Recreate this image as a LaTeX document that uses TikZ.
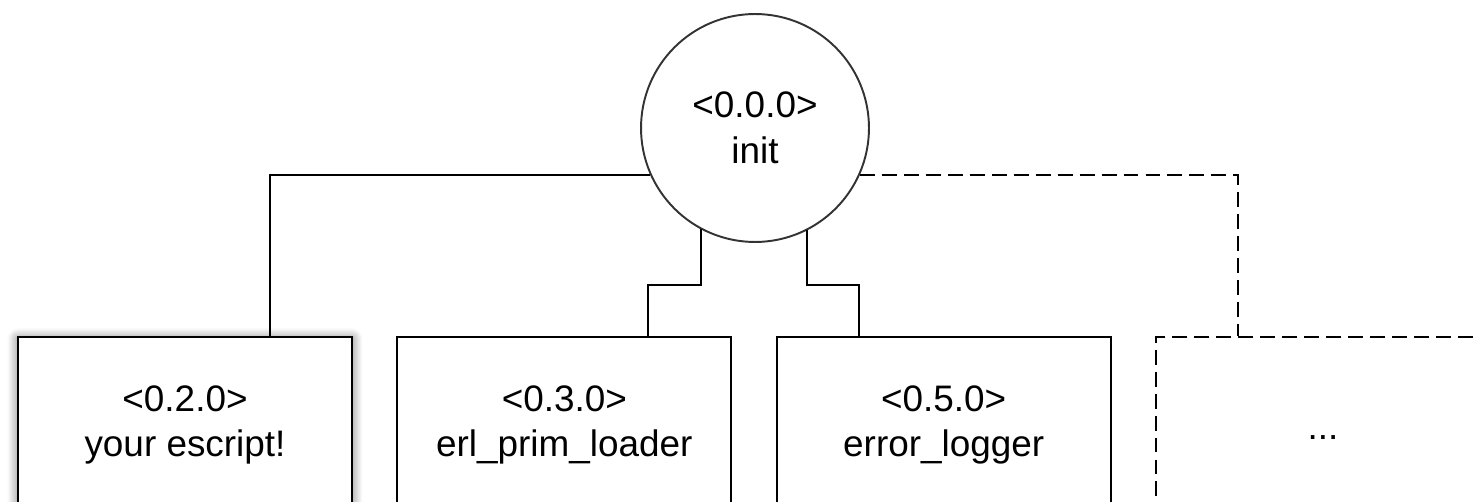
\documentclass[tikz,border=0pt]{standalone}
\usepackage{fontspec}
\setmainfont{Liberation Sans}
\usetikzlibrary{positioning,calc,shadows.blur}

\begin{document}
\begin{tikzpicture}[
    x=0.02cm, y=0.02cm,
    every node/.style ={
        font=\fontsize{21}{26}\selectfont,
        align=center,
        line width=1.1pt
    },
    proc/.style ={
        rectangle,
        draw=black,
        fill=white,
        minimum width=6.68cm,
        minimum height=3.52cm
    },
    root/.style ={
        circle,
        draw=black!80,
        fill=white,
        minimum size=4.56cm
    },
    link/.style ={
        line width=1.1pt
    },
    maybe/.style ={
        dash pattern=on 8.5pt off 4pt
    }
    ]

    \useasboundingbox (0,0) rectangle (1478,501);
    \clip (0,0) rectangle (1478,501);

    \node[root] (init) at (755,373) {<0.0.0>\\init};
    \node[proc, blur shadow={shadow xshift=0pt, shadow yshift=-1pt, shadow blur steps=8, shadow blur radius=6pt, shadow opacity=60}] (escript) at (185,76) {<0.2.0>\\your escript!};
    \node[proc] (loader) [right=0.87cm of escript] {<0.3.0>\\erl\_prim\_loader};
    \node[proc] (logger) [right=0.87cm of loader] {<0.5.0>\\error\_logger};
    \node[proc, maybe] (others) [right=0.87cm of logger] {\raisebox{-16pt}{...}};

    % tree links from init down to its children
    \draw[link] (init.204) -| ($(escript.north)+(85,0)$);
    \draw[link] (init.242) |- ($(loader.north)+(84,51)$) -- ($(loader.north)+(84,0)$);
    \draw[link] (init.297) |- ($(logger.north)+(-85,51)$) -- ($(logger.north)+(-85,0)$);
    \draw[link, maybe] (init.336) -| ($(others.north)+(-85,0)$);
\end{tikzpicture}
\end{document}
